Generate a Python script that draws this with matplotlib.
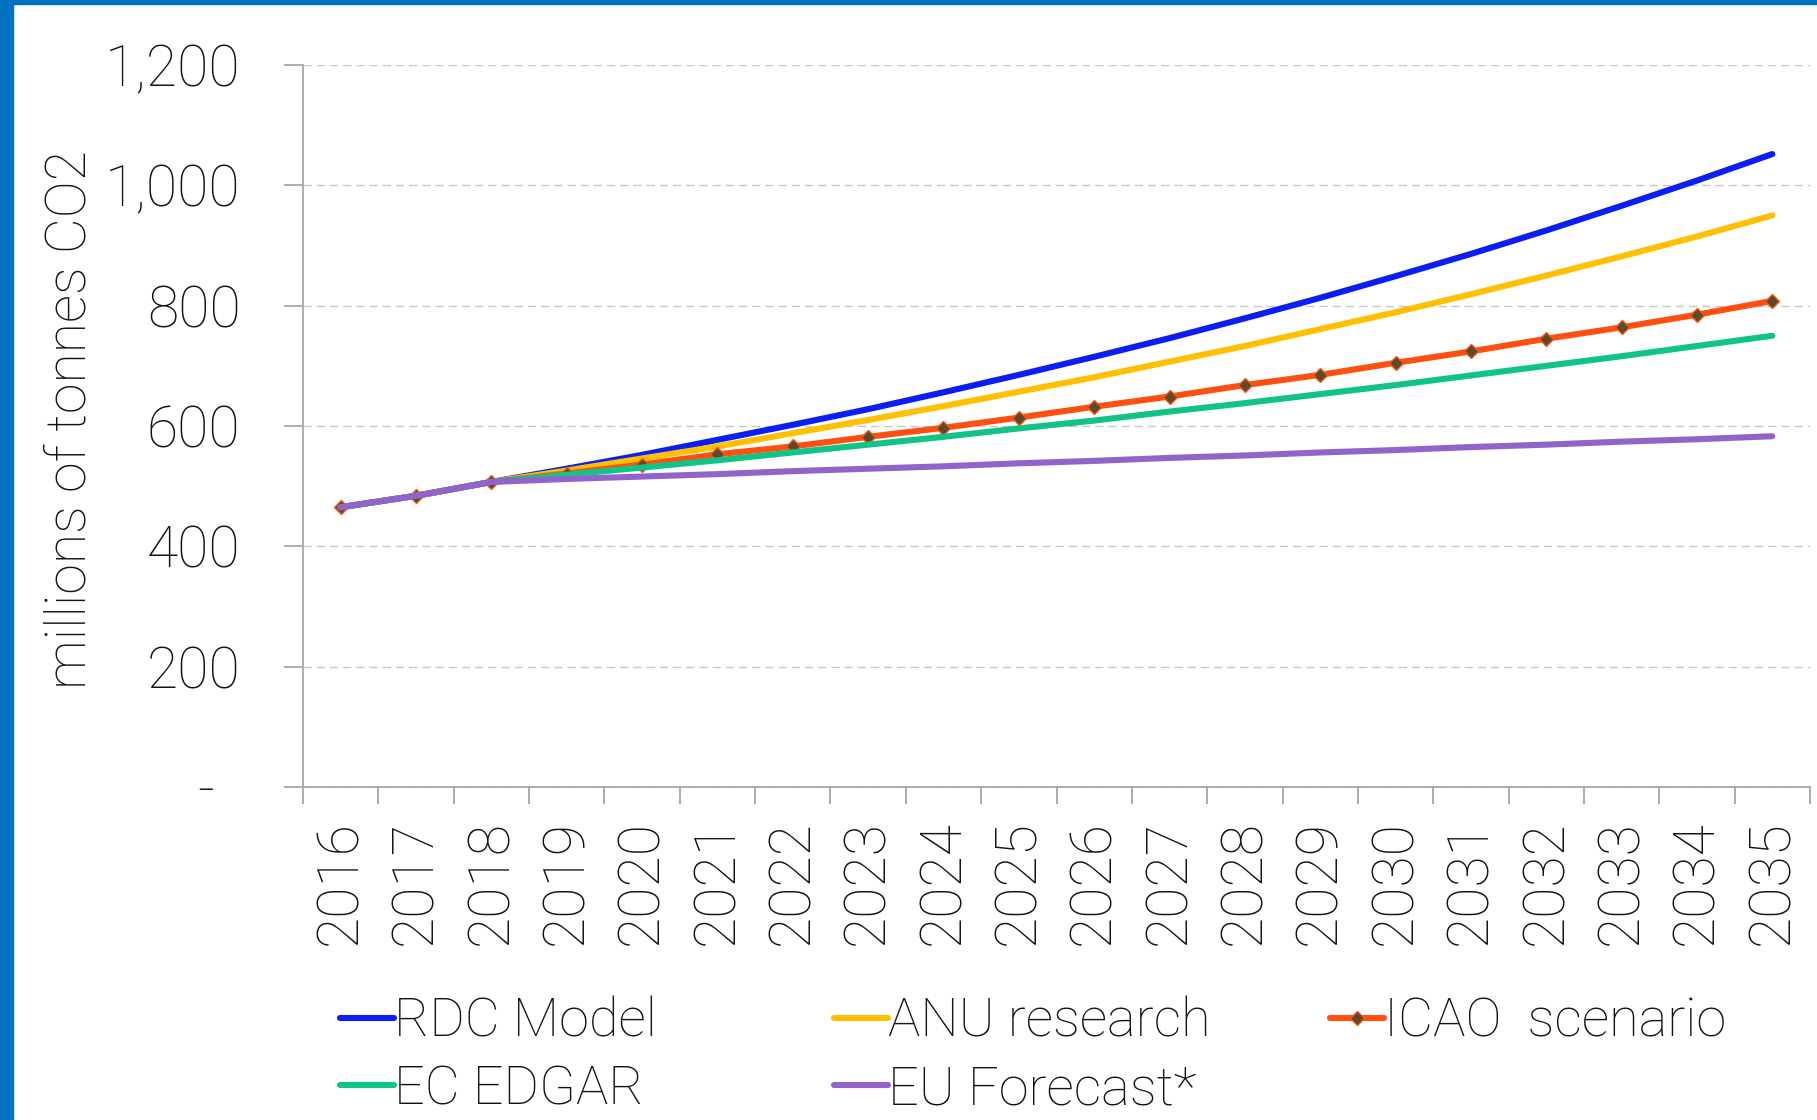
import matplotlib
matplotlib.use("Agg")
import matplotlib.pyplot as plt
import matplotlib.transforms as mtransforms
from matplotlib.patches import Rectangle

plt.rcParams['font.family'] = ['Roboto', 'DejaVu Sans']
plt.rcParams['font.weight'] = 'light'

years = [str(y) for y in range(2016, 2036)]

# millions of tonnes CO2
rdc_model = [465, 484, 507, 529, 552, 577, 602, 628, 656, 685, 715, 746, 779, 813, 849, 886, 925, 966, 1008, 1052]
anu_research = [465, 484, 507, 526, 546, 566, 588, 610, 633, 657, 681, 707, 733, 761, 789, 819, 850, 882, 915, 950]
icao_scenario = [465, 484, 507, 521, 536, 553, 566, 582, 597, 614, 632, 649, 668, 685, 705, 724, 745, 764, 785, 808]
ec_edgar = [465, 484, 507, 519, 531, 543, 556, 569, 582, 596, 609, 624, 638, 653, 668, 684, 700, 716, 733, 750]
eu_forecast = [465, 484, 507, 512, 516, 520, 525, 529, 533, 538, 542, 547, 551, 556, 560, 565, 569, 574, 578, 583]

ytick_vals = [0, 200, 400, 600, 800, 1000, 1200]
ytick_labels = ['-', '200', '400', '600', '800', '1,000', '1,200']

c_blue = '#0a1ef5'
c_yellow = '#ffc000'
c_orange = '#ff5010'
c_green = '#10c487'
c_purple = '#9363cc'
txt = '#141414'
axis_grey = '#a6a6a6'

fig = plt.figure(figsize=(18.17, 11.2), dpi=100)
ax = fig.add_axes([303/1817, 1 - 787/1120, 1507/1817, 722/1120])

x = list(range(len(years)))
lw = 4.4
l_rdc, = ax.plot(x, rdc_model, color=c_blue, lw=lw, solid_capstyle='round', zorder=3)
l_anu, = ax.plot(x, anu_research, color=c_yellow, lw=lw, solid_capstyle='round', zorder=3)
l_icao, = ax.plot(x, icao_scenario, color=c_orange, lw=lw, solid_capstyle='round',
                  marker='D', markersize=7, markerfacecolor='#5c4a2c',
                  markeredgecolor=c_orange, markeredgewidth=1, zorder=3)
l_edgar, = ax.plot(x, ec_edgar, color=c_green, lw=lw, solid_capstyle='round', zorder=3)
l_eu, = ax.plot(x, eu_forecast, color=c_purple, lw=lw, solid_capstyle='round', zorder=4)

ax.set_xlim(-0.5, len(years) - 0.5)
ax.set_ylim(0, 1200)

ax.set_yticks(ytick_vals, labels=ytick_labels)
ax.set_xticks(x, labels=years, rotation=90)
ax.set_xticks([i - 0.5 for i in range(len(years) + 1)], minor=True)

ax.tick_params(axis='y', length=14, width=1.3, color=axis_grey, pad=31,
               labelsize=41, labelcolor=txt)
ax.tick_params(axis='x', which='major', length=0, pad=24, labelsize=41, labelcolor=txt)
ax.tick_params(axis='x', which='minor', length=12, width=1.3, color=axis_grey)

ax.grid(axis='y', color='#c8c8c8', lw=1, linestyle=(0, (6, 3.5)), zorder=0)
ax.set_axisbelow(True)
for s in ['top', 'right']:
    ax.spines[s].set_visible(False)
for s in ['left', 'bottom']:
    ax.spines[s].set_color(axis_grey)
    ax.spines[s].set_linewidth(1.3)

# the "-" for zero sits further left, as in the accounting number format
zero_lbl = ax.get_yticklabels()[0]
zero_lbl.set_transform(zero_lbl.get_transform() +
                       mtransforms.ScaledTranslation(-0.26, 0, fig.dpi_scale_trans))

fig.text(70/1817, 1 - 419/1120, 'millions of tonnes CO2', rotation=90,
         ha='center', va='center', fontsize=40, color=txt)

# legend: three equal-width columns as in the source
leg_kw = dict(frameon=False, fontsize=39, handlelength=1.0, handletextpad=0.0,
              labelspacing=0.3, borderpad=0, borderaxespad=0, loc='upper left',
              labelcolor=txt, numpoints=1)
fig.legend([l_rdc, l_edgar], ['RDC Model', 'EC EDGAR'],
           bbox_to_anchor=(340/1817, 1 - 996/1120), **leg_kw)
fig.legend([l_anu, l_eu], ['ANU research', 'EU Forecast*'],
           bbox_to_anchor=(834/1817, 1 - 996/1120), **leg_kw)
fig.legend([l_icao], ['ICAO  scenario'],
           bbox_to_anchor=(1330/1817, 1 - 996/1120), **leg_kw)

# blue frame on the left and top edges
fig.patches.append(Rectangle((0, 0), 13/1817, 1, transform=fig.transFigure,
                             color='#0070c0', zorder=10))
fig.patches.append(Rectangle((0, 1 - 4/1120), 1, 4/1120, transform=fig.transFigure,
                             color='#0070c0', zorder=10))

fig.savefig('out.png', dpi=100)
